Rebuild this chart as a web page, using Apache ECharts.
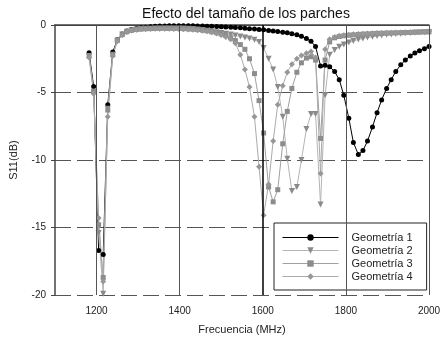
<!DOCTYPE html>
<html>
<head>
<meta charset="utf-8">
<script src="https://cdn.jsdelivr.net/npm/echarts@6/dist/echarts.min.js"></script>
<style>
  html, body { margin: 0; padding: 0; background: #fff; }
  #chart { width: 444px; height: 340px; }
</style>
</head>
<body>
<div id="chart"></div>
<script>
// frecuencias (MHz)
const freq = [1182, 1193, 1205, 1216, 1227, 1239, 1250, 1262, 1273, 1284, 1296, 1307, 1318, 1330, 1341, 1352,
  1364, 1375, 1386, 1398, 1409, 1421, 1432, 1443, 1455, 1466, 1477, 1489, 1500, 1511, 1523, 1534, 1546, 1557,
  1568, 1580, 1591, 1602, 1614, 1625, 1636, 1648, 1659, 1670, 1682, 1693, 1705, 1716, 1727, 1739, 1750, 1761,
  1773, 1784, 1795, 1807, 1818, 1830, 1841, 1852, 1864, 1875, 1886, 1898, 1909, 1920, 1932, 1943, 1955, 1966,
  1977, 1989, 2000];

// S11 (dB) de cada geometria
const geo1 = [-2.05, -4.55, -16.7, -17.0, -5.9, -2.0, -1.1, -0.66, -0.45, -0.33, -0.25, -0.2, -0.16, -0.13, -0.1, -0.08,
  -0.07, -0.06, -0.05, -0.05, -0.05, -0.05, -0.06, -0.07, -0.08, -0.09, -0.1, -0.12, -0.13, -0.15, -0.17, -0.19, -0.21, -0.24,
  -0.27, -0.3, -0.33, -0.36, -0.4, -0.44, -0.48, -0.53, -0.58, -0.65, -0.73, -0.84, -1.0, -1.2, -1.6, -3.03, -2.98, -3.1,
  -3.45, -4.05, -5.2, -6.9, -8.7, -9.6, -9.3, -8.6, -7.55, -6.5, -5.55, -4.7, -4.05, -3.45, -2.95, -2.6, -2.3, -2.07,
  -1.9, -1.76, -1.6];
const geo2 = [-2.3, -5.0, -15.4, -19.9, -6.2, -2.2, -1.15, -0.7, -0.5, -0.4, -0.34, -0.3, -0.28, -0.27, -0.26, -0.25,
  -0.25, -0.25, -0.25, -0.25, -0.26, -0.27, -0.3, -0.33, -0.37, -0.42, -0.48, -0.54, -0.6, -0.65, -0.71, -0.78, -0.86, -0.93,
  -1.0, -1.1, -1.25, -1.7, -2.5, -3.3, -4.6, -6.8, -9.9, -12.3, -12.0, -10.0, -7.7, -6.6, -6.6, -13.3, -5.2, -2.2,
  -1.85, -1.62, -1.45, -1.3, -1.18, -1.08, -1.0, -0.93, -0.87, -0.82, -0.77, -0.73, -0.7, -0.67, -0.64, -0.61, -0.59, -0.57,
  -0.55, -0.53, -0.51];
const geo3 = [-2.3, -4.9, -14.8, -18.7, -6.3, -2.2, -1.15, -0.7, -0.5, -0.4, -0.34, -0.3, -0.28, -0.27, -0.26, -0.25,
  -0.25, -0.25, -0.25, -0.26, -0.27, -0.29, -0.31, -0.34, -0.38, -0.43, -0.5, -0.57, -0.66, -0.78, -0.95, -1.15, -1.45, -1.8,
  -2.5, -3.6, -5.6, -8.0, -12.0, -13.1, -12.2, -8.8, -6.4, -4.7, -3.5, -2.8, -2.45, -2.35, -2.6, -8.4, -2.6, -1.25,
  -0.95, -0.85, -0.8, -0.76, -0.73, -0.7, -0.68, -0.66, -0.64, -0.62, -0.61, -0.6, -0.59, -0.58, -0.57, -0.56, -0.55, -0.54,
  -0.53, -0.52, -0.51];
const geo4 = [-2.4, -5.1, -14.3, -19.0, -6.8, -2.3, -1.2, -0.75, -0.52, -0.41, -0.35, -0.31, -0.29, -0.28, -0.27, -0.27,
  -0.27, -0.28, -0.29, -0.3, -0.31, -0.33, -0.35, -0.38, -0.42, -0.47, -0.54, -0.63, -0.74, -0.88, -1.05, -1.35, -2.2, -3.3,
  -4.6, -6.8, -10.5, -14.1, -11.8, -8.6, -5.9, -4.5, -3.5, -2.9, -2.5, -2.25, -2.1, -1.97, -2.4, -11.0, -1.8, -1.05,
  -0.88, -0.8, -0.75, -0.72, -0.69, -0.67, -0.65, -0.63, -0.61, -0.6, -0.59, -0.58, -0.57, -0.56, -0.55, -0.54, -0.53, -0.52,
  -0.51, -0.5, -0.49];

const xTicks = [1200, 1400, 1600, 1800, 2000];
const names = ["Geometría 1", "Geometría 2", "Geometría 3", "Geometría 4"];

const font = "Liberation Sans, Arial, sans-serif";
const pairs = (vals) => freq.map((f, i) => [f, vals[i]]);

const chart = echarts.init(document.getElementById("chart"), null, { renderer: "canvas" });

// lineas verticales de la rejilla
const gridLines = xTicks.map((v) => ({
  xAxis: v,
  lineStyle: v === 1600
    ? { color: "#000", width: 1.5, type: "solid" }
    : { color: "#555", width: 1, type: "solid" },
}));

const option = {
  animation: false,
  backgroundColor: "#fff",
  title: {
    text: "Efecto del tamaño de los parches",
    left: 241, textAlign: "center", top: 2,
    textStyle: { fontFamily: font, fontSize: 14, fontWeight: "normal", color: "#111" },
  },
  grid: { left: 52, right: 15, top: 25, bottom: 43 },
  legend: {
    data: names,
    orient: "vertical",
    left: 274, top: 223,
    padding: [9, 14, 8, 8],
    itemWidth: 56, itemHeight: 8, itemGap: 2,
    backgroundColor: "#fff",
    borderColor: "#222", borderWidth: 1,
    lineStyle: { width: 1 },
    textStyle: { fontFamily: font, fontSize: 11, color: "#222", padding: [0, 0, 0, 8] },
  },
  xAxis: [
    {
      type: "value", min: 1100, max: 2000,
      name: "Frecuencia (MHz)", nameLocation: "middle", nameGap: 29,
      nameTextStyle: { fontFamily: font, fontSize: 11, color: "#222" },
      axisLine: { lineStyle: { color: "#444", width: 1.5 } },
      axisTick: { customValues: xTicks, length: 4, lineStyle: { color: "#444" } },
      axisLabel: {
        customValues: xTicks, fontFamily: font, fontSize: 10, color: "#222", margin: 11,
        formatter: (v) => String(v),
      },
      splitLine: { show: false },
    },
    {
      type: "value", min: 1100, max: 2000, position: "top",
      axisLine: { lineStyle: { color: "#444", width: 1 } },
      axisTick: { show: false }, axisLabel: { show: false }, splitLine: { show: false },
    },
  ],
  yAxis: {
    type: "value", min: -20, max: 0, interval: 5,
    name: "S11(dB)", nameLocation: "middle", nameGap: 36,
    nameTextStyle: { fontFamily: font, fontSize: 11, color: "#222" },
    axisLine: { show: true, lineStyle: { color: "#444", width: 1.5 } },
    axisTick: { show: true, length: 4, lineStyle: { color: "#444" } },
    axisLabel: { fontFamily: font, fontSize: 10, color: "#222", margin: 9 },
    splitLine: { lineStyle: { color: "#555", width: 1, type: [16, 6] } },
  },
  series: [
    {
      name: "rejilla", type: "line", data: [], z: 1, silent: true,
      markLine: { silent: true, symbol: "none", label: { show: false }, data: gridLines },
    },
    {
      name: names[0], type: "line", data: pairs(geo1), z: 3,
      symbol: "circle", symbolSize: 5,
      itemStyle: { color: "#000" }, lineStyle: { color: "#000", width: 1 },
    },
    {
      name: names[1], type: "line", data: pairs(geo2), z: 3,
      symbol: "triangle", symbolRotate: 180, symbolSize: 6,
      itemStyle: { color: "#8a8a8a" }, lineStyle: { color: "#b4b4b4", width: 1 },
    },
    {
      name: names[2], type: "line", data: pairs(geo3), z: 3,
      symbol: "rect", symbolSize: 5,
      itemStyle: { color: "#8c8c8c" }, lineStyle: { color: "#a0a0a0", width: 1 },
    },
    {
      name: names[3], type: "line", data: pairs(geo4), z: 3,
      symbol: "diamond", symbolSize: 6,
      itemStyle: { color: "#979797" }, lineStyle: { color: "#ababab", width: 1 },
    },
  ],
};

chart.setOption(option);
</script>
</body>
</html>
